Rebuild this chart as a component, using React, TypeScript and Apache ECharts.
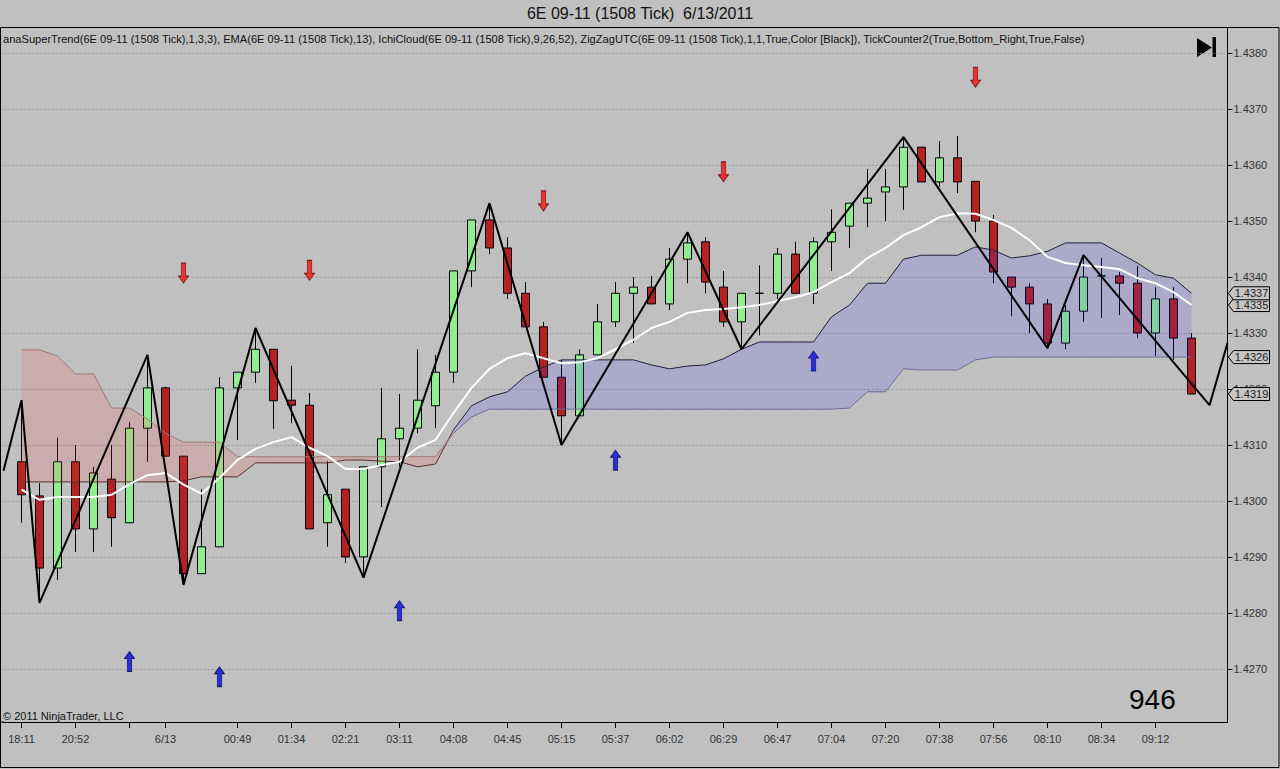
import React, { useEffect, useRef } from "react";
import * as echarts from "echarts";

const FONT = '"Liberation Sans", Arial, sans-serif';

// ---- Candles (bars 1..66) ----
const opens = [
  1.4307, 1.43009, 1.4288, 1.4307, 1.4295, 1.43039, 1.42961, 1.4313, 1.43202, 1.4308,
  1.4287, 1.42918, 1.43202, 1.4323, 1.43271, 1.4318, 1.43171, 1.42961, 1.43021, 1.429,
  1.43061, 1.43111, 1.4313, 1.4317, 1.4323, 1.43411, 1.43502, 1.43452, 1.43371, 1.43311,
  1.43221, 1.43152, 1.43261, 1.4332, 1.43371, 1.43382, 1.43352, 1.43432, 1.43463, 1.43382,
  1.4332, 1.43371, 1.43371, 1.43441, 1.43371, 1.43463, 1.43491, 1.43532, 1.43552, 1.43561,
  1.43632, 1.4357, 1.43613, 1.43571, 1.435, 1.434, 1.43382, 1.43352, 1.43282, 1.43339,
  1.43402, 1.43402, 1.43389, 1.433, 1.43361, 1.43291,
];
const closes = [
  1.43011, 1.4288, 1.4307, 1.4295, 1.4305, 1.4297, 1.4313, 1.43202, 1.4308, 1.4287,
  1.42918, 1.43202, 1.4323, 1.43271, 1.43179, 1.43171, 1.4295, 1.43011, 1.429, 1.43061,
  1.43111, 1.4313, 1.4318, 1.4323, 1.43411, 1.43502, 1.43452, 1.43371, 1.43311, 1.43221,
  1.43152, 1.43261, 1.4332, 1.43371, 1.43382, 1.43352, 1.43432, 1.43461, 1.43391, 1.4332,
  1.43371, 1.43371, 1.43441, 1.43371, 1.43463, 1.4348, 1.43532, 1.43541, 1.43561, 1.43632,
  1.4357, 1.43613, 1.4357, 1.435, 1.43409, 1.43382, 1.43352, 1.43282, 1.43339, 1.434,
  1.43402, 1.43389, 1.433, 1.43361, 1.43291, 1.43191,
];
const lows = [
  1.42961, 1.42818, 1.42859, 1.42909, 1.42909, 1.42918, 1.42961, 1.4307, 1.43079, 1.4285,
  1.4287, 1.42918, 1.43109, 1.43211, 1.43129, 1.43139, 1.4295, 1.42918, 1.42889, 1.42863,
  1.42989, 1.43061, 1.43121, 1.4313, 1.43211, 1.43382, 1.43441, 1.43361, 1.43311, 1.43221,
  1.431, 1.43152, 1.43261, 1.43311, 1.43282, 1.43352, 1.43341, 1.43389, 1.43371, 1.43311,
  1.43271, 1.43296, 1.43361, 1.43371, 1.43352, 1.43411, 1.43452, 1.43489, 1.435, 1.4352,
  1.4357, 1.43561, 1.4355, 1.4348, 1.43389, 1.4333, 1.433, 1.43273, 1.43271, 1.4332,
  1.43327, 1.43332, 1.43291, 1.43259, 1.43252, 1.43191,
];
const highs = [
  1.4318, 1.43032, 1.43113, 1.431, 1.43061, 1.431, 1.43141, 1.43261, 1.43204, 1.4308,
  1.43021, 1.43221, 1.4323, 1.43309, 1.43271, 1.43241, 1.43193, 1.43071, 1.43021, 1.43061,
  1.43202, 1.43191, 1.43271, 1.43261, 1.43411, 1.43502, 1.43532, 1.43471, 1.43391, 1.4332,
  1.43252, 1.43271, 1.43352, 1.43391, 1.434, 1.43402, 1.43452, 1.4348, 1.43471, 1.43411,
  1.43371, 1.43421, 1.43452, 1.43463, 1.43471, 1.43521, 1.43532, 1.43593, 1.43593, 1.4365,
  1.43632, 1.43643, 1.43652, 1.43571, 1.43511, 1.434, 1.43389, 1.43361, 1.4335, 1.43439,
  1.43434, 1.43409, 1.4342, 1.43382, 1.43382, 1.433,
];

// ---- EMA(13) (bars 1..66) ----
const ema = [
  1.4302, 1.43002, 1.43007, 1.43007, 1.43007, 1.43011, 1.4303, 1.43046, 1.4305, 1.43029,
  1.43013, 1.43041, 1.43073, 1.43093, 1.43105, 1.43114, 1.43095, 1.4308, 1.43057, 1.43057,
  1.43064, 1.4307, 1.43095, 1.43109, 1.43157, 1.43202, 1.43236, 1.43255, 1.43264, 1.43255,
  1.43246, 1.43248, 1.43255, 1.43271, 1.43288, 1.43309, 1.4332, 1.43336, 1.43341, 1.43343,
  1.43346, 1.4335, 1.43357, 1.43364, 1.43373, 1.43391, 1.43407, 1.43434, 1.43452, 1.43475,
  1.43489, 1.43507, 1.43514, 1.43513, 1.43502, 1.43488, 1.43466, 1.43436, 1.43425, 1.43421,
  1.43418, 1.43414, 1.43398, 1.43389, 1.43373, 1.4335,
];

// ---- Ichimoku cloud spans (bars 1..66) ----
const spanA = [
  1.43034, 1.43034, 1.43034, 1.43034, 1.43034, 1.43034, 1.43034, 1.43034, 1.43034, 1.43036,
  1.43043, 1.43043, 1.43043, 1.43068, 1.43068, 1.43068, 1.43068, 1.43068, 1.43073, 1.43073,
  1.43071, 1.4307, 1.43061, 1.43066, 1.43127, 1.4317, 1.43186, 1.43195, 1.43223, 1.43239,
  1.43252, 1.43252, 1.43252, 1.43252, 1.43252, 1.43243, 1.43236, 1.43241, 1.43243, 1.43254,
  1.43271, 1.43284, 1.43284, 1.43284, 1.43284, 1.43329, 1.4335, 1.43389, 1.43389, 1.43432,
  1.43439, 1.43439, 1.43439, 1.43454, 1.43448, 1.43434, 1.43438, 1.43446, 1.43461, 1.43461,
  1.43461, 1.43443, 1.43425, 1.43404, 1.43398, 1.43371,
];
const spanB = [
  1.4327, 1.4327, 1.43259, 1.43227, 1.43227, 1.43166, 1.43166, 1.43146, 1.43121, 1.43105,
  1.43105, 1.43105, 1.43079, 1.43079, 1.43079, 1.43079, 1.43079, 1.43079, 1.43079, 1.43079,
  1.43079, 1.43079, 1.43079, 1.43079, 1.43121, 1.4315, 1.43164, 1.43164, 1.43164, 1.43164,
  1.43164, 1.43164, 1.43164, 1.43164, 1.43164, 1.43164, 1.43164, 1.43164, 1.43164, 1.43164,
  1.43164, 1.43164, 1.43164, 1.43164, 1.43164, 1.43164, 1.43166, 1.43195, 1.43195, 1.43236,
  1.43234, 1.43234, 1.43234, 1.43252, 1.43257, 1.43257, 1.43257, 1.43257, 1.43257, 1.43257,
  1.43257, 1.43257, 1.43257, 1.43257, 1.43257, 1.43257,
];

// ---- ZigZag vertices ----
const zigzagBars = [0, 1, 2, 8, 10, 14, 20, 27, 31, 38, 41, 50, 58, 60, 67, 68];
const zigzagPrices = [
  1.43054, 1.4318, 1.42818, 1.43261, 1.4285, 1.43309, 1.42863, 1.43532, 1.431, 1.4348,
  1.43271, 1.4365, 1.43273, 1.43439, 1.43171, 1.43282,
];

// ---- SuperTrend signal arrows ----
const downArrowBars = [10, 17, 30, 40, 54];
const downArrowPrices = [1.43407, 1.43412, 1.43536, 1.43588, 1.43757];
const upArrowBars = [7, 12, 22, 34, 45];
const upArrowPrices = [1.42713, 1.42686, 1.42804, 1.43073, 1.4325];

// ---- Time axis ----
const tickBars = [1, 4, 7, 9, 13, 16, 19, 22, 25, 28, 31, 34, 37, 40, 43, 46, 49, 52, 55, 58, 61, 64];
const tickTexts = [
  "18:11", "20:52", "", "6/13", "00:49", "01:34", "02:21", "03:11", "04:08", "04:45", "05:15",
  "05:37", "06:02", "06:29", "06:47", "07:04", "07:20", "07:38", "07:56", "08:10", "08:34", "09:12",
];

const BAR_COUNT = 69; // bar slots 0..68 (1..66 hold candles)
const Y_MIN = 1.42605;
const Y_MAX = 1.43845;

const TITLE = "6E 09-11 (1508 Tick)  6/13/2011";
const INDICATORS =
  "anaSuperTrend(6E 09-11 (1508 Tick),1,3,3), EMA(6E 09-11 (1508 Tick),13), IchiCloud(6E 09-11 (1508 Tick),9,26,52), ZigZagUTC(6E 09-11 (1508 Tick),1,1,True,Color [Black]), TickCounter2(True,Bottom_Right,True,False)";
const COPYRIGHT = "© 2011 NinjaTrader, LLC";
const TICK_COUNT = "946";

function pad(arr: number[]): (number | null)[] {
  const out: (number | null)[] = [];
  for (let i = 0; i < BAR_COUNT; i++) {
    out.push(i >= 1 && i <= arr.length ? arr[i - 1] : null);
  }
  return out;
}

function buildOption() {
  const cats = Array.from({ length: BAR_COUNT }, (_, i) => String(i));
  const labelAt: Record<number, string> = {};
  tickBars.forEach((b, k) => (labelAt[b] = tickTexts[k]));
  const tickSet = new Set(tickBars);

  const candleData = cats.map((_, i) =>
    i >= 1 && i <= opens.length
      ? [opens[i - 1], closes[i - 1], lows[i - 1], highs[i - 1]]
      : ["-", "-", "-", "-"]
  );

  const A = pad(spanA);
  const B = pad(spanB);
  const base = A.map((a, i) => (a == null || B[i] == null ? null : Math.min(a, B[i] as number)));
  const pinkH = A.map((a, i) => (a == null || B[i] == null ? null : Math.max((B[i] as number) - a, 0)));
  const blueH = A.map((a, i) => (a == null || B[i] == null ? null : Math.max(a - (B[i] as number), 0)));
  const cross = A.findIndex((a, i) => a != null && B[i] != null && a > (B[i] as number));
  const split = cross - 0.5;

  const zigzag = zigzagBars.map((b, k) => [b, zigzagPrices[k]]);
  const downArrows = downArrowBars.map((b, k) => [b, downArrowPrices[k]]);
  const upArrows = upArrowBars.map((b, k) => [b, upArrowPrices[k]]);

  const lastBar = BAR_COUNT - 1;
  const tagValues = [
    ema[ema.length - 1],
    spanA[spanA.length - 1],
    spanB[spanB.length - 1],
    closes[closes.length - 1],
  ];
  const tagData = tagValues.map((v) => [lastBar, v]);

  const stackLine = { width: 0, opacity: 0 };

  return {
    animation: false,
    backgroundColor: "#c0c0c0",
    textStyle: { fontFamily: FONT },
    grid: { left: 3.5, right: 52.5, top: 28, bottom: 47, show: false },
    title: [
      {
        text: TITLE,
        left: "center",
        top: 5,
        padding: 0,
        textStyle: { fontSize: 16, fontWeight: "normal", color: "#111", fontFamily: FONT },
      },
      {
        text: INDICATORS,
        left: 3,
        top: 33,
        padding: 0,
        textStyle: { fontSize: 11.1, fontWeight: "normal", color: "#111", fontFamily: FONT },
      },
      {
        text: COPYRIGHT,
        left: 3,
        top: 710,
        padding: 0,
        textStyle: { fontSize: 11, fontWeight: "normal", color: "#111", fontFamily: FONT },
      },
      {
        text: TICK_COUNT,
        left: 1129,
        top: 685,
        padding: 0,
        textStyle: { fontSize: 28, fontWeight: "normal", color: "#000", fontFamily: FONT },
      },
    ],
    xAxis: {
      type: "category",
      data: cats,
      boundaryGap: false,
      axisLine: { show: true, lineStyle: { color: "#000", width: 1 } },
      axisTick: {
        show: true,
        interval: (i: number) => tickSet.has(i),
        length: 6,
        lineStyle: { color: "#000" },
      },
      axisLabel: {
        show: true,
        interval: (i: number) => tickSet.has(i),
        formatter: (_v: string, i: number) => labelAt[i] ?? "",
        color: "#333",
        fontSize: 11,
        margin: 11,
        fontFamily: FONT,
      },
      splitLine: { show: false },
    },
    yAxis: {
      type: "value",
      position: "right",
      min: Y_MIN,
      max: Y_MAX,
      splitNumber: 12,
      minInterval: 0.001,
      maxInterval: 0.001,
      axisLine: { show: true, lineStyle: { color: "#000", width: 1 } },
      axisTick: { show: true, length: 5, lineStyle: { color: "#000" } },
      axisLabel: {
        color: "#333",
        fontSize: 11,
        margin: 6,
        fontFamily: FONT,
        showMinLabel: false,
        showMaxLabel: false,
        formatter: (v: number) => v.toFixed(4),
      },
      splitLine: {
        show: true,
        showMinLine: false,
        showMaxLine: false,
        lineStyle: { color: "#989898", type: [2, 2], width: 1 },
      },
    },
    visualMap: [
      {
        show: false,
        type: "piecewise",
        seriesIndex: 3,
        dimension: 0,
        pieces: [
          { gte: 0, lt: split, color: "#5a2c2c" },
          { gte: split, lte: BAR_COUNT - 1, color: "#1e1e3c" },
        ],
      },
      {
        show: false,
        type: "piecewise",
        seriesIndex: 4,
        dimension: 0,
        pieces: [
          { gte: 0, lt: split, color: "#a07878" },
          { gte: split, lte: BAR_COUNT - 1, color: "#6c6c98" },
        ],
      },
    ],
    graphic: [
      {
        type: "rect",
        shape: { x: 0.5, y: 27.5, width: 1278.5, height: 740 },
        style: { fill: "none", stroke: "#000", lineWidth: 1 },
        silent: true,
      },
      {
        type: "line",
        shape: { x1: 0.5, y1: 722, x2: 4, y2: 722 },
        style: { stroke: "#000", lineWidth: 1 },
        silent: true,
      },
      {
        type: "polygon",
        shape: { points: [[1197, 38], [1197, 57], [1212, 47.5]] },
        style: { fill: "#000" },
        silent: true,
      },
      {
        type: "rect",
        shape: { x: 1212.5, y: 37, width: 3.5, height: 20 },
        style: { fill: "#000" },
        silent: true,
      },
    ],
    series: [
      {
        name: "cloudBase",
        type: "line",
        stack: "cloud",
        data: base,
        symbol: "none",
        lineStyle: stackLine,
        silent: true,
      },
      {
        name: "cloudBear",
        type: "line",
        stack: "cloud",
        data: pinkH,
        symbol: "none",
        lineStyle: stackLine,
        areaStyle: { color: "rgba(255,70,70,0.22)" },
        silent: true,
      },
      {
        name: "cloudBull",
        type: "line",
        stack: "cloud",
        data: blueH,
        symbol: "none",
        lineStyle: stackLine,
        areaStyle: { color: "rgba(40,40,255,0.2)" },
        silent: true,
      },
      {
        name: "SpanA",
        type: "line",
        data: A,
        symbol: "none",
        lineStyle: { width: 1 },
        silent: true,
      },
      {
        name: "SpanB",
        type: "line",
        data: B,
        symbol: "none",
        lineStyle: { width: 1 },
        silent: true,
      },
      {
        name: "EMA",
        type: "line",
        data: pad(ema),
        symbol: "none",
        lineStyle: { color: "#ffffff", width: 2 },
        silent: true,
      },
      {
        name: "Price",
        type: "candlestick",
        data: candleData,
        barWidth: 9,
        itemStyle: {
          color: "#90ee90",
          color0: "#b22222",
          borderColor: "#000",
          borderColor0: "#000",
          borderColorDoji: "#000",
          borderWidth: 1,
        },
        silent: true,
      },
      {
        name: "ZigZag",
        type: "line",
        data: zigzag,
        symbol: "none",
        lineStyle: { color: "#000", width: 2 },
        silent: true,
      },
      {
        name: "SellSignal",
        type: "scatter",
        data: downArrows,
        symbol: "path://M2.7,0L7.3,0L7.3,13L10,13L5,20L0,13L2.7,13Z",
        symbolSize: [10, 20],
        itemStyle: { color: "#ee1010", borderColor: "#5a0000", borderWidth: 0.8 },
        silent: true,
      },
      {
        name: "BuySignal",
        type: "scatter",
        data: upArrows,
        symbol: "path://M2.7,20L7.3,20L7.3,7L10,7L5,0L0,7L2.7,7Z",
        symbolSize: [10, 20],
        itemStyle: { color: "#0808d8", borderColor: "#000050", borderWidth: 0.8 },
        silent: true,
      },
      {
        name: "LastValueTags",
        type: "custom",
        z: 10,
        clip: false,
        silent: true,
        data: tagData,
        renderItem: (_params: any, api: any) => {
          const v = api.value(1) as number;
          const p = api.coord([api.value(0), v]);
          const x = p[0];
          const y = p[1];
          return {
            type: "group",
            children: [
              {
                type: "polygon",
                shape: {
                  points: [
                    [x + 1, y],
                    [x + 6, y - 6.5],
                    [x + 42, y - 6.5],
                    [x + 42, y + 6.5],
                    [x + 6, y + 6.5],
                  ],
                },
                style: { fill: "#c6c6c6", stroke: "#000", lineWidth: 1 },
              },
              {
                type: "text",
                x: x + 24,
                y: y,
                style: {
                  text: v.toFixed(4),
                  fill: "#222",
                  fontSize: 11,
                  fontFamily: FONT,
                  align: "center",
                  verticalAlign: "middle",
                },
              },
            ],
          };
        },
      },
    ],
  };
}

export default function App() {
  const ref = useRef<HTMLDivElement>(null);
  useEffect(() => {
    if (!ref.current) return;
    const chart = echarts.init(ref.current, null, { renderer: "svg" });
    chart.setOption(buildOption() as any);
    return () => chart.dispose();
  }, []);
  return (
    <div
      ref={ref}
      style={{
        position: "fixed",
        left: 0,
        top: 0,
        width: 1280,
        height: 769,
        background: "#c0c0c0",
      }}
    />
  );
}
